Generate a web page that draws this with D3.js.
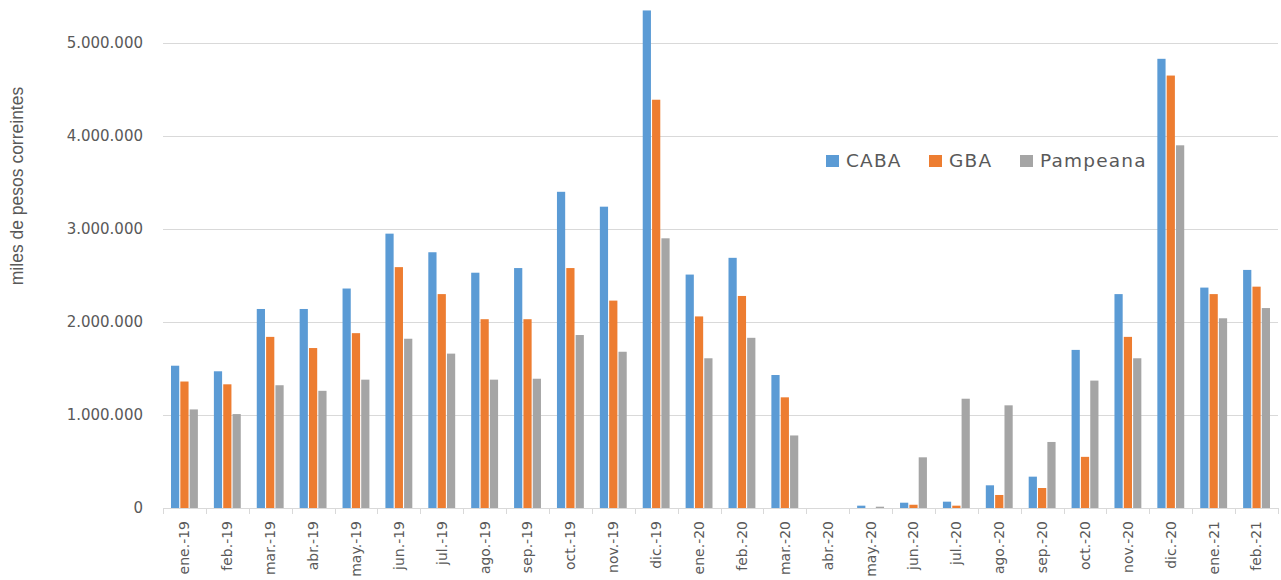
<!DOCTYPE html>
<html>
<head>
<meta charset="utf-8">
<script src="https://cdn.jsdelivr.net/npm/d3@7"></script>
<style>
  html, body { margin: 0; padding: 0; background: #fff; }
  svg { display: block; }
</style>
</head>
<body>
<svg id="chart" width="1281" height="580"></svg>
<script>
const categories = ["ene.-19","feb.-19","mar.-19","abr.-19","may.-19","jun.-19","jul.-19","ago.-19","sep.-19","oct.-19","nov.-19","dic.-19",
  "ene.-20","feb.-20","mar.-20","abr.-20","may.-20","jun.-20","jul.-20","ago.-20","sep.-20","oct.-20","nov.-20","dic.-20","ene.-21","feb.-21"];
const seriesNames = ["CABA","GBA","Pampeana"];
const caba = [1530000,1470000,2140000,2140000,2360000,2950000,2750000,2530000,2580000,3400000,3240000,5350000,
  2510000,2690000,1430000,0,25000,57000,68000,244000,337000,1700000,2300000,4830000,2370000,2560000];
const gba = [1360000,1330000,1840000,1720000,1880000,2590000,2300000,2030000,2030000,2580000,2230000,4390000,
  2060000,2280000,1190000,0,0,35000,25000,140000,215000,550000,1840000,4650000,2300000,2380000];
const pampeana = [1060000,1010000,1320000,1260000,1380000,1820000,1660000,1380000,1390000,1860000,1680000,2900000,
  1610000,1830000,780000,0,14000,545000,1175000,1104000,710000,1370000,1610000,3900000,2040000,2150000];
const yTicks = [0,1000000,2000000,3000000,4000000,5000000];
const yTitle = "miles de pesos correintes";
const colors = ["#5B9BD5","#ED7D31","#A5A5A5"];

const seriesValues = [caba, gba, pampeana];
const svg = d3.select("#chart");

const x0 = d3.scaleBand().domain(categories).range([163, 1278]).padding(0);
const groupInset = 8;
const x1 = d3.scaleBand().domain(seriesNames).range([0, x0.bandwidth() - 2*groupInset]).paddingInner(0.12);
const y = d3.scaleLinear().domain([0, 5000000]).range([508, 43]);

const fmt = v => d3.format(",")(v).replace(/,/g, ".");

// gridlines
svg.append("g").selectAll("line").data(yTicks.filter(t => t > 0)).join("line")
  .attr("x1", 163).attr("x2", 1278)
  .attr("y1", d => y(d)).attr("y2", d => y(d))
  .attr("stroke", "#d9d9d9").attr("stroke-width", 1).attr("shape-rendering", "crispEdges");

// y tick labels
svg.append("g").selectAll("text").data(yTicks).join("text")
  .attr("x", 143).attr("y", d => y(d)).attr("dy", "0.36em")
  .attr("text-anchor", "end")
  .attr("font-family", "DejaVu Sans").attr("font-size", 15).attr("fill", "#595959")
  .text(d => fmt(d));

// y title
svg.append("text")
  .attr("transform", "translate(23,186) rotate(-90)")
  .attr("text-anchor", "middle")
  .attr("font-family", "Liberation Sans").attr("font-size", 17.5).attr("fill", "#595959")
  .text(yTitle);

// bars
const groups = svg.append("g").selectAll("g").data(categories).join("g")
  .attr("transform", d => `translate(${x0(d) + groupInset},0)`);
groups.selectAll("rect")
  .data((d, i) => seriesNames.map((s, k) => ({ s, k, v: seriesValues[k][i] })))
  .join("rect")
  .attr("x", d => x1(d.s))
  .attr("width", x1.bandwidth())
  .attr("y", d => y(d.v))
  .attr("height", d => y(0) - y(d.v))
  .attr("fill", d => colors[d.k]);

// x axis line + ticks
svg.append("line").attr("x1", 163).attr("x2", 1278).attr("y1", 508.5).attr("y2", 508.5)
  .attr("stroke", "#d9d9d9").attr("stroke-width", 1);
const bounds = categories.map(c => x0(c)).concat([x0.range()[1]]);
svg.append("g").selectAll("line").data(bounds).join("line")
  .attr("x1", d => Math.round(d) + 0.5).attr("x2", d => Math.round(d) + 0.5)
  .attr("y1", 508).attr("y2", 514)
  .attr("stroke", "#d9d9d9").attr("stroke-width", 1);

// x labels
svg.append("g").selectAll("text").data(categories).join("text")
  .attr("transform", d => `translate(${x0(d) + x0.bandwidth()/2},521) rotate(-90)`)
  .attr("dy", "0.35em")
  .attr("text-anchor", "end")
  .attr("font-family", "DejaVu Sans").attr("font-size", 14).attr("fill", "#595959")
  .text(d => d);

// legend
const legendPos = [{x: 826, tx: 846}, {x: 929, tx: 949}, {x: 1020, tx: 1040}];
const legend = svg.append("g").selectAll("g").data(seriesNames).join("g");
legend.append("rect")
  .attr("x", (d, i) => legendPos[i].x).attr("y", 155).attr("width", 13).attr("height", 12)
  .attr("fill", (d, i) => colors[i]);
legend.append("text")
  .attr("x", (d, i) => legendPos[i].tx).attr("y", 167)
  .attr("font-family", "DejaVu Sans").attr("font-size", 18.5).attr("fill", "#595959")
  .attr("letter-spacing", "1.2px")
  .text(d => d);
</script>
</body>
</html>
